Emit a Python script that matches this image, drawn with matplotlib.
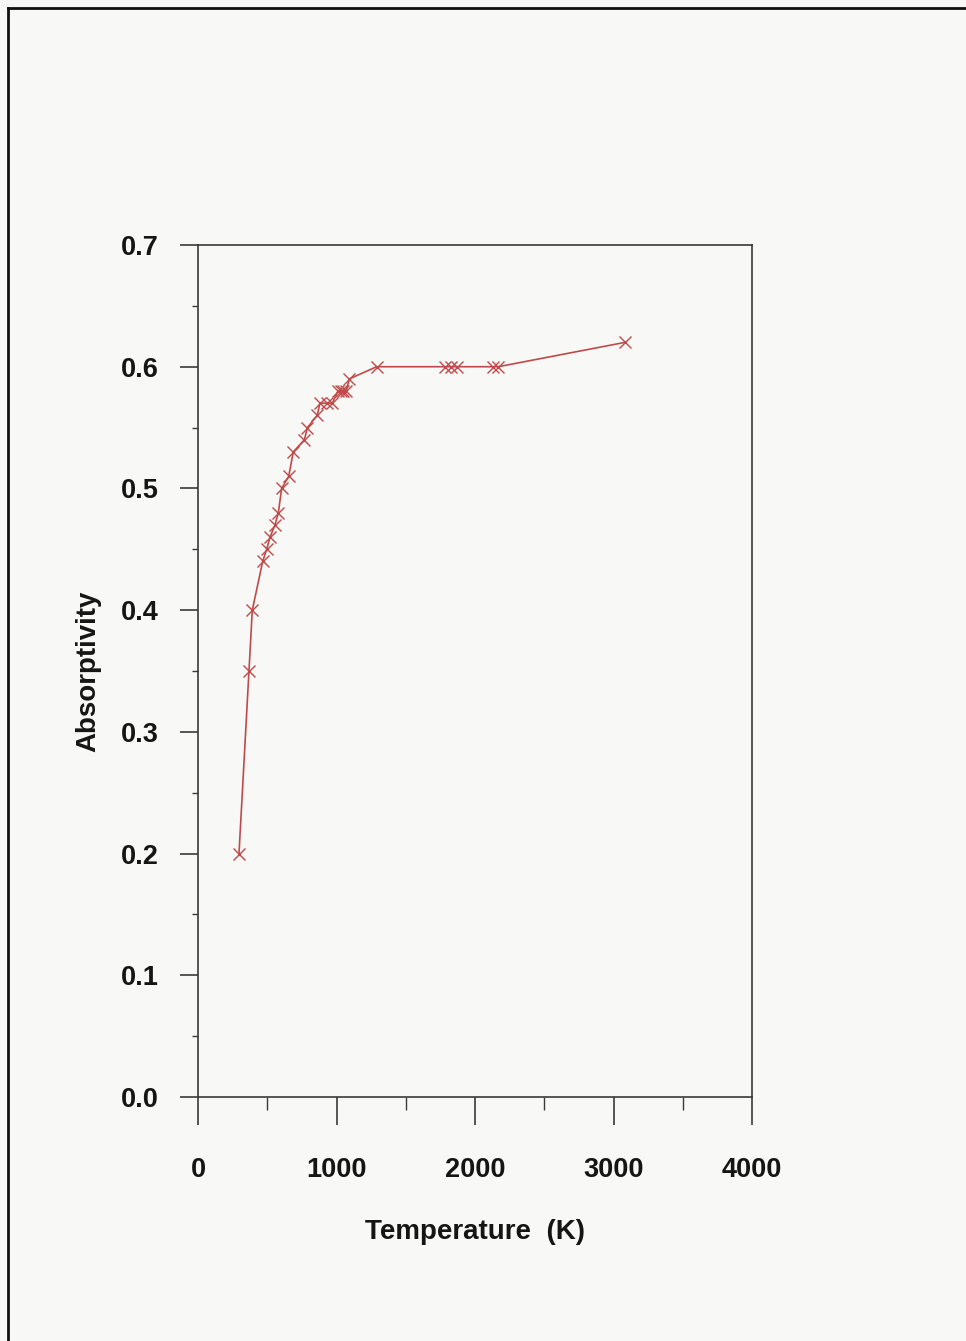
import matplotlib
matplotlib.use('Agg')
import matplotlib.pyplot as plt
from matplotlib.lines import Line2D
from matplotlib.ticker import MultipleLocator

# temperature (K) and absorptivity
temperature = [296, 368, 392, 467, 496, 520, 556, 580, 604, 655, 688, 768, 790,
               861, 880, 930, 970, 1010, 1030, 1050, 1070, 1093, 1290,
               1784, 1827, 1868, 2132, 2168, 3083]
absorptivity = [0.20, 0.35, 0.40, 0.44, 0.45, 0.46, 0.47, 0.48, 0.50, 0.51, 0.53, 0.54, 0.55,
                0.56, 0.57, 0.57, 0.57, 0.58, 0.58, 0.58, 0.58, 0.59, 0.60,
                0.60, 0.60, 0.60, 0.60, 0.60, 0.62]
xticks = [0, 1000, 2000, 3000, 4000]
yticks = [0.0, 0.1, 0.2, 0.3, 0.4, 0.5, 0.6, 0.7]

plt.rcParams['font.family'] = ['Liberation Sans', 'DejaVu Sans']

fig = plt.figure(figsize=(9.66, 13.41), dpi=100)
fig.patch.set_facecolor('#f8f8f6')
ax = fig.add_axes([198/966, 1 - 1097/1341, (752-198)/966, (1097-245)/1341])
ax.set_facecolor('#f8f8f6')

ax.plot(temperature, absorptivity, color='#c04a4a', lw=1.2, marker='x', ms=8, mew=1.0)

ax.set_xlim(0, 4000)
ax.set_ylim(0, 0.7)
ax.set_xticks(xticks)
ax.set_yticks(yticks)
ax.xaxis.set_minor_locator(MultipleLocator(500))
ax.yaxis.set_minor_locator(MultipleLocator(0.05))
ax.set_xticklabels([str(t) for t in xticks])
ax.set_yticklabels(['%.1f' % t for t in yticks])

axis_color = '#3a3a3a'
for s in ax.spines.values():
    s.set_color(axis_color)
    s.set_linewidth(1.2)
ax.tick_params(axis='x', which='major', direction='out', length=20, width=1.2, color=axis_color, pad=23,
               labelsize=19.5)
ax.tick_params(axis='x', which='minor', direction='out', length=9, width=1.0, color=axis_color)
ax.tick_params(axis='y', which='major', direction='out', length=13, width=1.2, color=axis_color, pad=15,
               labelsize=19.5)
ax.tick_params(axis='y', which='minor', direction='out', length=4, width=1.0, color=axis_color)
for lab in ax.get_xticklabels() + ax.get_yticklabels():
    lab.set_fontweight('bold')
    lab.set_color('#151515')

ax.set_xlabel('Temperature  (K)', fontsize=20, fontweight='bold', color='#151515', labelpad=26)
ax.set_ylabel('Absorptivity', fontsize=20, fontweight='bold', color='#151515', labelpad=14)

# page frame from the scan
fig.add_artist(Line2D([8/966, 8/966], [0, 1 - 8/1341], transform=fig.transFigure, color='#111111', lw=2))
fig.add_artist(Line2D([8/966, 1], [1 - 8/1341, 1 - 8/1341], transform=fig.transFigure, color='#111111', lw=2))

fig.savefig('out.png', dpi=100, facecolor=fig.get_facecolor())
